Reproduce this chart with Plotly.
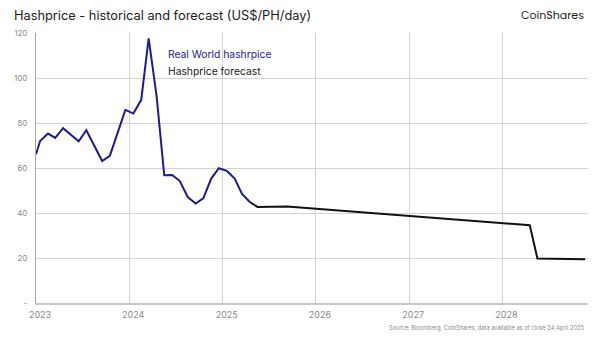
import plotly.graph_objects as go

# Historical (Real World hashprice), US$/PH/day
hist_dates = [
    "2023-01-01", "2023-01-17", "2023-02-17", "2023-03-17", "2023-04-17", "2023-05-17",
    "2023-06-17", "2023-07-17", "2023-08-17", "2023-09-17", "2023-10-17", "2023-11-17",
    "2023-12-17", "2024-01-17", "2024-02-17", "2024-03-17", "2024-04-17", "2024-05-17",
    "2024-06-17", "2024-07-17", "2024-08-17", "2024-09-17", "2024-10-17", "2024-11-17",
    "2024-12-17", "2025-01-17", "2025-02-17", "2025-03-17", "2025-04-17",
]
hist_values = [
    66.1, 72.0, 75.3, 73.4, 77.7, 74.8,
    71.9, 76.8, 70.0, 63.1, 65.4, 75.6,
    85.8, 84.2, 90.3, 117.6, 92.1, 56.8,
    56.9, 54.2, 47.1, 44.2, 46.5, 55.3,
    59.9, 58.7, 55.3, 48.6, 44.9,
]

# Forecast
fc_dates = ["2025-04-17", "2025-05-17", "2025-09-10", "2028-04-17", "2028-05-17", "2028-11-20"]
fc_values = [44.9, 42.7, 42.9, 34.6, 19.8, 19.5]

x_tickvals = ["2023-01-01", "2024-01-01", "2025-01-01", "2026-01-01", "2027-01-01", "2028-01-01"]
x_ticktext = ["2023", "2024", "2025", "2026", "2027", "2028"]
y_tickvals = [0, 20, 40, 60, 80, 100, 120]
y_ticktext = ["-", "20", "40", "60", "80", "100", "120"]

BLUE = "#1c1c8f"
FONT = "Inter"

fig = go.Figure()
fig.add_trace(go.Scatter(x=fc_dates, y=fc_values, mode="lines",
                         line=dict(color="#111111", width=2), name="Hashprice forecast"))
fig.add_trace(go.Scatter(x=hist_dates, y=hist_values, mode="lines",
                         line=dict(color=BLUE, width=2), name="Real World hashrpice"))

fig.update_layout(
    width=600, height=337,
    margin=dict(l=36, r=12, t=33, b=34),
    paper_bgcolor="white", plot_bgcolor="white",
    showlegend=False,
    font=dict(family=FONT, color="#888888", size=8),
    xaxis=dict(
        type="date", range=["2023-01-01", "2028-12-01"],
        tickvals=x_tickvals, ticktext=x_ticktext,
        showgrid=True, gridcolor="#d3d3d3", gridwidth=1,
        showline=True, linecolor="#c8c8c8", linewidth=2,
        ticks="", ticklabelshift=4, ticklabelstandoff=2,
        tickfont=dict(size=9, color="#8a8a8a"), zeroline=False,
    ),
    yaxis=dict(
        range=[0, 120], tickvals=y_tickvals, ticktext=y_ticktext,
        showgrid=True, gridcolor="#d3d3d3", gridwidth=1,
        showline=True, linecolor="#a8a8a8", linewidth=1,
        ticks="", ticklabelstandoff=6,
        tickfont=dict(size=8, color="#8a8a8a"), zeroline=False,
    ),
    annotations=[
        dict(text="Hashprice - historical and forecast (US$/PH/day)", xref="paper", yref="paper",
             x=(12-36)/552, y=(303.5-15.7)/270.5, xanchor="left", yanchor="middle", showarrow=False,
             font=dict(family=FONT, size=12.8, color="#1a1a1a")),
        dict(text="CoinShares", xref="paper", yref="paper",
             x=(586-36)/552, y=(303.5-15.3)/270.5, xanchor="right", yanchor="middle", showarrow=False,
             font=dict(family="Poppins, Lato, sans-serif", size=11, color="#1a1a1a")),
        dict(text="Real World hashrpice", xref="paper", yref="paper",
             x=(166-36)/552, y=(303.5-54)/270.5, xanchor="left", yanchor="middle", showarrow=False,
             font=dict(family=FONT, size=10.3, color=BLUE)),
        dict(text="Hashprice forecast", xref="paper", yref="paper",
             x=(166-36)/552, y=(303.5-71)/270.5, xanchor="left", yanchor="middle", showarrow=False,
             font=dict(family=FONT, size=10.3, color="#1a1a1a")),
        dict(text="Source: Bloomberg, CoinShares, data available as of close 24 April 2025",
             xref="paper", yref="paper", x=(586-36)/552, y=-(329-303.5)/270.5,
             xanchor="right", yanchor="middle", showarrow=False,
             font=dict(family=FONT, size=5.7, color="#8a8a8a")),
    ],
)

fig.write_html("out.html")
